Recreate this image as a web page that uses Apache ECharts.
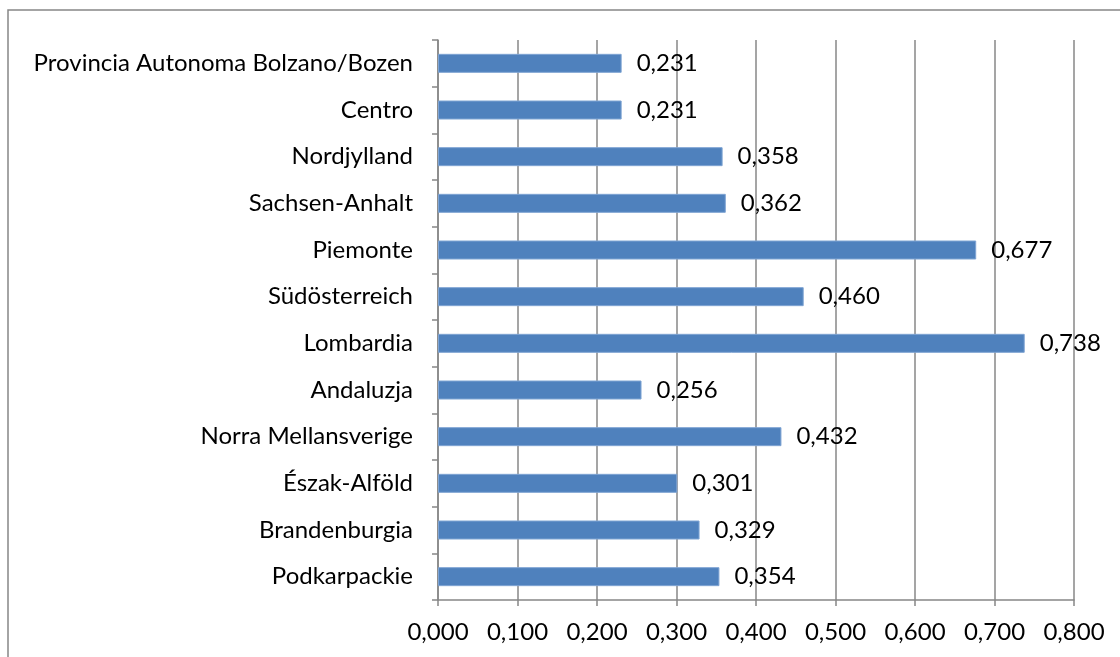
<!DOCTYPE html>
<html>
<head>
<meta charset="utf-8">
<script src="https://cdn.jsdelivr.net/npm/echarts@6/dist/echarts.min.js"></script>
<style>
  html, body { margin: 0; padding: 0; background: #fff; }
  #chart { width: 1120px; height: 657px; }
</style>
</head>
<body>
<div id="chart"></div>
<script>
// categories listed top to bottom
const regions = [
  'Provincia Autonoma Bolzano/Bozen',
  'Centro',
  'Nordjylland',
  'Sachsen-Anhalt',
  'Piemonte',
  'Südösterreich',
  'Lombardia',
  'Andaluzja',
  'Norra Mellansverige',
  'Észak-Alföld',
  'Brandenburgia',
  'Podkarpackie',
]
const values = [0.231, 0.231, 0.358, 0.362, 0.677, 0.460, 0.738, 0.256, 0.432, 0.301, 0.329, 0.354]
const axisMin = 0
const axisMax = 0.8
const axisStep = 0.1

const fmt = (v) => Number(v).toFixed(3).replace('.', ',')
const FONT = 'Lato'
const GRAY = '#878787'

const chart = echarts.init(document.getElementById('chart'), null, { renderer: 'canvas' })

chart.setOption({
  backgroundColor: '#fff',
  animation: false,
  graphic: [
    {
      type: 'rect',
      shape: { x: 8, y: 10, width: 1200, height: 700 },
      style: { fill: 'none', stroke: GRAY, lineWidth: 1.5 },
    },
  ],
  grid: {
    left: 438,
    right: 46,
    top: 40,
    bottom: 57,
  },
  xAxis: {
    type: 'value',
    min: axisMin,
    max: axisMax,
    interval: axisStep,
    axisLine: { show: true, lineStyle: { color: GRAY, width: 1.5 } },
    axisTick: { show: true, length: 6, lineStyle: { color: GRAY, width: 1.5 } },
    splitLine: { show: true, lineStyle: { color: GRAY, width: 1.5 } },
    axisLabel: {
      formatter: fmt,
      color: '#000',
      fontFamily: FONT,
      fontSize: 24,
      margin: 20,
    },
  },
  yAxis: {
    type: 'category',
    inverse: true,
    data: regions,
    axisLine: { show: true, lineStyle: { color: GRAY, width: 1.5 } },
    axisTick: { show: true, length: 6, lineStyle: { color: GRAY, width: 1.5 } },
    axisLabel: {
      color: '#000',
      fontFamily: FONT,
      fontSize: 24,
      margin: 25,
    },
  },
  series: [
    {
      type: 'bar',
      data: values,
      barWidth: 19,
      itemStyle: {
        color: '#4F81BD',
        borderColor: '#7fa4d3',
        borderWidth: 1,
      },
      label: {
        show: true,
        position: 'right',
        distance: 15,
        formatter: (p) => fmt(p.value),
        color: '#000',
        fontFamily: FONT,
        fontSize: 24,
      },
    },
  ],
})
</script>
</body>
</html>
